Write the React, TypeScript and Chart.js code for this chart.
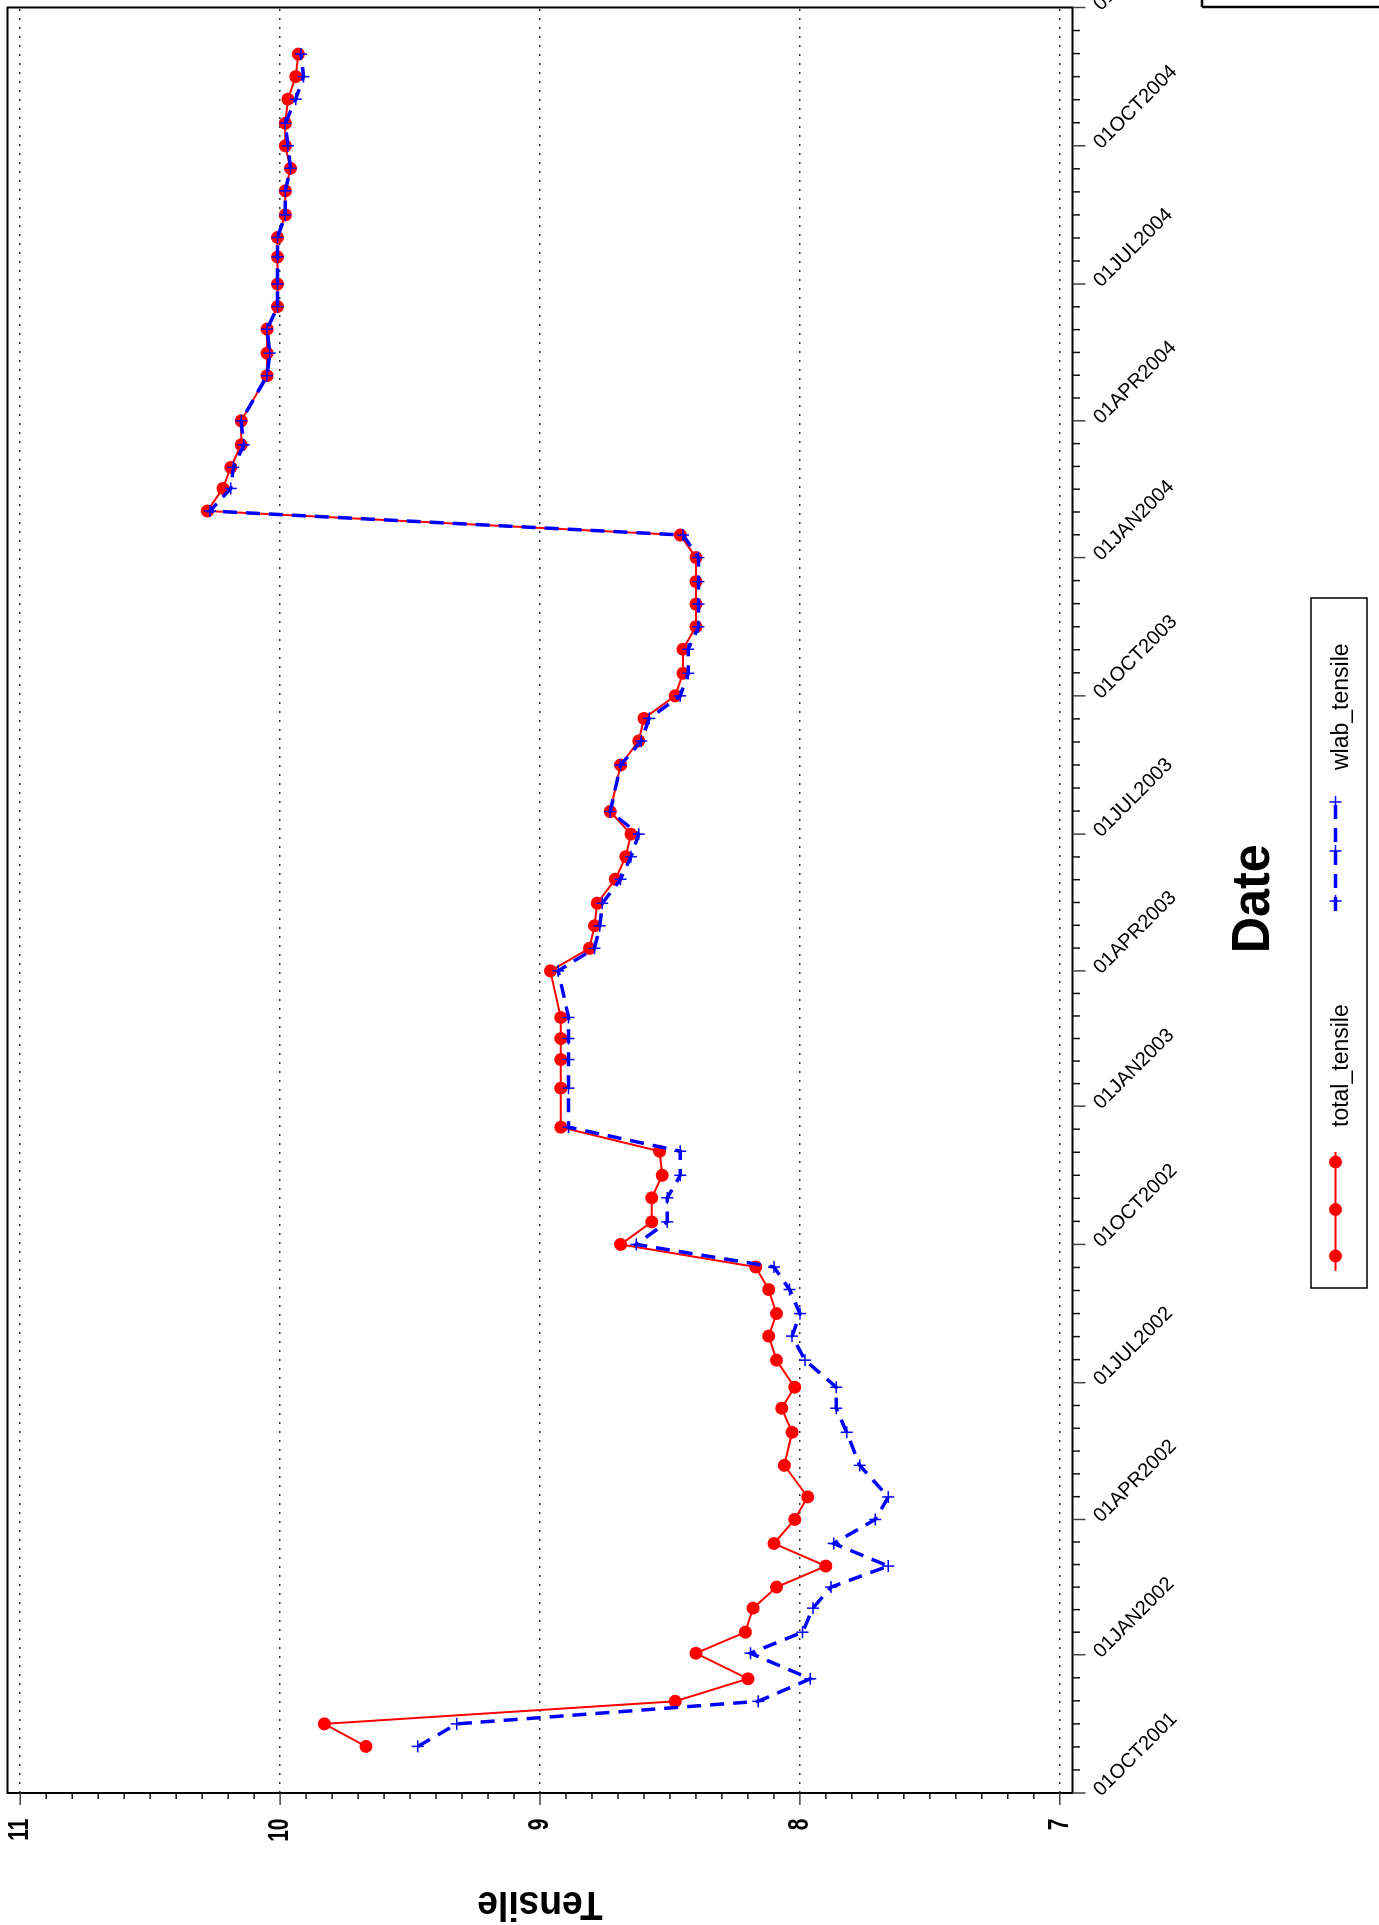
import React, { useEffect, useRef } from 'react';
import { Chart, registerables } from 'chart.js';

Chart.register(...registerables);

// ---------------- data ----------------
const sampleDates = [
  '2001-11-01', '2001-11-16', '2001-12-01', '2001-12-16', '2002-01-02', '2002-01-16', '2002-02-01', '2002-02-15', '2002-03-01', '2002-03-16',
  '2002-04-01', '2002-04-16', '2002-05-07', '2002-05-29', '2002-06-14', '2002-06-28', '2002-07-16', '2002-08-01', '2002-08-16', '2002-09-01',
  '2002-09-16', '2002-10-01', '2002-10-16', '2002-11-01', '2002-11-16', '2002-12-02', '2002-12-18', '2003-01-13', '2003-02-01', '2003-02-15',
  '2003-03-01', '2003-04-01', '2003-04-16', '2003-05-01', '2003-05-16', '2003-06-01', '2003-06-16', '2003-07-01', '2003-07-16', '2003-08-16',
  '2003-09-01', '2003-09-16', '2003-10-01', '2003-10-16', '2003-11-01', '2003-11-16', '2003-12-01', '2003-12-16', '2004-01-01', '2004-01-16',
  '2004-02-01', '2004-02-16', '2004-03-01', '2004-03-16', '2004-04-01', '2004-05-01', '2004-05-16', '2004-06-01', '2004-06-16', '2004-07-01',
  '2004-07-19', '2004-08-01', '2004-08-16', '2004-09-01', '2004-09-16', '2004-10-01', '2004-10-16', '2004-11-01', '2004-11-16', '2004-12-01',
];

const totalTensile = [
  9.67, 9.83, 8.48, 8.20, 8.40, 8.21, 8.18, 8.09, 7.90, 8.10,
  8.02, 7.97, 8.06, 8.03, 8.07, 8.02, 8.09, 8.12, 8.09, 8.12,
  8.17, 8.69, 8.57, 8.57, 8.53, 8.54, 8.92, 8.92, 8.92, 8.92,
  8.92, 8.96, 8.81, 8.79, 8.78, 8.71, 8.67, 8.65, 8.73, 8.69,
  8.62, 8.60, 8.48, 8.45, 8.45, 8.40, 8.40, 8.40, 8.40, 8.46,
  10.28, 10.22, 10.19, 10.15, 10.15, 10.05, 10.05, 10.05, 10.01, 10.01,
  10.01, 10.01, 9.98, 9.98, 9.96, 9.98, 9.98, 9.97, 9.94, 9.93,
];

const wlabTensile = [
  9.47, 9.32, 8.16, 7.96, 8.19, 7.99, 7.95, 7.88, 7.66, 7.87,
  7.71, 7.66, 7.77, 7.82, 7.86, 7.86, 7.98, 8.03, 8.00, 8.04,
  8.10, 8.63, 8.51, 8.51, 8.46, 8.46, 8.89, 8.89, 8.89, 8.89,
  8.89, 8.93, 8.79, 8.77, 8.76, 8.69, 8.65, 8.62, 8.73, 8.69,
  8.61, 8.58, 8.46, 8.43, 8.43, 8.39, 8.39, 8.39, 8.39, 8.45,
  10.27, 10.19, 10.18, 10.14, 10.15, 10.05, 10.04, 10.05, 10.01, 10.01,
  10.01, 10.01, 9.98, 9.98, 9.96, 9.97, 9.98, 9.94, 9.91, 9.92,
];

const dateTickDates = [
  '2001-10-01', '2002-01-01', '2002-04-01', '2002-07-01', '2002-10-01', '2003-01-01', '2003-04-01',
  '2003-07-01', '2003-10-01', '2004-01-01', '2004-04-01', '2004-07-01', '2004-10-01', '2005-01-01',
];
const dateTickLabels = [
  '01OCT2001', '01JAN2002', '01APR2002', '01JUL2002', '01OCT2002', '01JAN2003', '01APR2003',
  '01JUL2003', '01OCT2003', '01JAN2004', '01APR2004', '01JUL2004', '01OCT2004', '01JAN2005',
];
const tensileTicks = [7, 8, 9, 10, 11];
const tensileTickLabels = ['7', '8', '9', '10', '11'];
const seriesNames = ['total_tensile', 'wlab_tensile'];
const xTitle = 'Date';
const yTitle = 'Tensile';

// ---------------- helpers ----------------
const EPOCH = Date.UTC(2001, 9, 1);
const toDay = (s: string) => {
  const [y, m, d] = s.split('-').map(Number);
  return (Date.UTC(y, m - 1, d) - EPOCH) / 86400000;
};

const W = 1925; // unrotated canvas width (becomes screen height)
const H = 1379; // unrotated canvas height (becomes screen width)
const FONT = '"Liberation Sans", Arial, Helvetica, sans-serif';
const RED = '#ff0000';
const BLUE = '#0000ff';

function line(ctx: CanvasRenderingContext2D, x1: number, y1: number, x2: number, y2: number) {
  ctx.beginPath();
  ctx.moveTo(x1, y1);
  ctx.lineTo(x2, y2);
  ctx.stroke();
}

const decorPlugin = {
  id: 'decor',
  afterDraw(chart: any) {
    const { ctx, chartArea: a, scales } = chart;
    const xs = scales.x;
    const ys = scales.y;
    ctx.save();

    // plot frame
    ctx.strokeStyle = '#000';
    ctx.lineWidth = 2;
    ctx.setLineDash([]);
    ctx.strokeRect(a.left, a.top, a.right - a.left, a.bottom - a.top);

    // date axis ticks (major + 5 minor per quarter)
    const majors = dateTickDates.map((d) => xs.getPixelForValue(toDay(d)));
    ctx.lineWidth = 1.5;
    for (let i = 0; i < majors.length; i++) {
      ctx.strokeStyle = '#444';
      line(ctx, majors[i], a.bottom, majors[i], a.bottom + 13);
      if (i < majors.length - 1) {
        ctx.strokeStyle = '#111';
        for (let k = 1; k <= 5; k++) {
          const p = majors[i] + ((majors[i + 1] - majors[i]) * k) / 6;
          line(ctx, p, a.bottom, p, a.bottom + 7.5);
        }
      }
    }

    // tensile axis ticks (major every 1, minor every 0.1)
    for (let t = 70; t <= 110; t++) {
      const p = ys.getPixelForValue(t / 10);
      const major = t % 10 === 0;
      ctx.strokeStyle = major ? '#444' : '#111';
      line(ctx, a.left - (major ? 12 : 6), p, a.left, p);
    }

    // date tick labels (rotated)
    ctx.fillStyle = '#000';
    ctx.font = `20px ${FONT}`;
    ctx.textAlign = 'left';
    ctx.textBaseline = 'middle';
    dateTickDates.forEach((d, i) => {
      const p = xs.getPixelForValue(toDay(d));
      ctx.save();
      ctx.translate(p, a.bottom + 24.5);
      ctx.rotate(Math.PI / 4);
      ctx.fillText(dateTickLabels[i], 0, 0);
      ctx.restore();
    });

    // tensile tick labels
    ctx.font = `bold 30px ${FONT}`;
    ctx.textAlign = 'right';
    ctx.textBaseline = 'middle';
    tensileTicks.forEach((v, i) => {
      const p = ys.getPixelForValue(v);
      ctx.save();
      ctx.translate(a.left - 25.5, p);
      ctx.scale(0.7, 1);
      ctx.fillText(tensileTickLabels[i], 0, 0);
      ctx.restore();
    });

    // axis titles
    ctx.textAlign = 'center';
    ctx.textBaseline = 'middle';
    ctx.save();
    ctx.font = `bold 40px ${FONT}`;
    ctx.translate(21.5, (a.top + a.bottom) / 2);
    ctx.rotate(-Math.PI / 2);
    ctx.scale(0.93, 1);
    ctx.fillText(yTitle, 0, 0);
    ctx.restore();

    ctx.save();
    ctx.font = `bold 53px ${FONT}`;
    ctx.translate((a.left + a.right) / 2 + 1.5, 1254);
    ctx.scale(0.95, 1);
    ctx.fillText(xTitle, 0, 0);
    ctx.restore();

    // legend box
    const lv = 1335.5;
    ctx.strokeStyle = '#000';
    ctx.lineWidth = 1.5;
    ctx.strokeRect(637, 1311, 1327 - 637, 1367 - 1311);

    // total_tensile sample
    ctx.strokeStyle = RED;
    ctx.lineWidth = 2;
    line(ctx, 654, lv, 773, lv);
    ctx.fillStyle = RED;
    [669, 715.5, 763].forEach((u) => {
      ctx.beginPath();
      ctx.arc(u, lv, 6.5, 0, Math.PI * 2);
      ctx.fill();
    });

    // wlab_tensile sample
    ctx.strokeStyle = BLUE;
    ctx.lineWidth = 3.5;
    ctx.setLineDash([14, 9]);
    line(ctx, 1014, lv, 1127, lv);
    ctx.setLineDash([]);
    ctx.lineWidth = 1.5;
    [1024, 1074, 1123].forEach((u) => {
      line(ctx, u - 6, lv, u + 6, lv);
      line(ctx, u, lv - 6, u, lv + 6);
    });

    ctx.fillStyle = '#000';
    ctx.font = `23px ${FONT}`;
    ctx.textAlign = 'left';
    ctx.textBaseline = 'alphabetic';
    ctx.fillText(seriesNames[0], 798, 1347.5);
    ctx.fillText(seriesNames[1], 1155, 1347.5);

    // partial box at the page corner
    ctx.strokeStyle = '#000';
    ctx.lineWidth = 2.5;
    line(ctx, 1918, 1202, 1918, H);
    line(ctx, 1918, 1202, W, 1202);

    ctx.restore();
  },
};

export default function App() {
  const canvasRef = useRef<HTMLCanvasElement | null>(null);

  useEffect(() => {
    const canvas = canvasRef.current;
    if (!canvas) return;
    const chart = new Chart(canvas, {
      type: 'line',
      data: {
        datasets: [
          {
            label: seriesNames[0],
            data: sampleDates.map((d, i) => ({ x: toDay(d), y: totalTensile[i] })),
            borderColor: RED,
            backgroundColor: RED,
            borderWidth: 2,
            pointStyle: 'circle',
            pointRadius: 6.5,
            pointBorderWidth: 0,
            pointBackgroundColor: RED,
            pointBorderColor: RED,
            fill: false,
            order: 1,
          },
          {
            label: seriesNames[1],
            data: sampleDates.map((d, i) => ({ x: toDay(d), y: wlabTensile[i] })),
            borderColor: BLUE,
            backgroundColor: BLUE,
            borderWidth: 3.5,
            borderDash: [14, 9],
            pointStyle: 'cross',
            pointRadius: 6,
            pointBorderWidth: 1.5,
            pointBorderColor: BLUE,
            fill: false,
            order: 0,
          },
        ],
      } as any,
      options: {
        animation: false,
        responsive: false,
        devicePixelRatio: 1,
        events: [],
        layout: { padding: { top: 5, right: 4, bottom: 0, left: 0 } },
        plugins: {
          legend: { display: false },
          tooltip: { enabled: false },
          title: { display: false },
        },
        scales: {
          x: {
            type: 'linear',
            position: 'bottom',
            min: 0,
            max: toDay('2005-01-01'),
            ticks: { display: false },
            grid: { display: false },
            border: { display: false },
            afterFit: (s: any) => {
              s.height = 306.5;
            },
          },
          y: {
            type: 'linear',
            position: 'left',
            min: 6.951,
            max: 11.049,
            ticks: { display: false },
            afterBuildTicks: (s: any) => {
              s.ticks = tensileTicks.map((v) => ({ value: v }));
            },
            grid: { color: '#333', lineWidth: 1.5, drawTicks: false },
            border: { display: false, dash: [2, 7] },
            afterFit: (s: any) => {
              s.width = 132;
            },
          },
        },
      } as any,
      plugins: [decorPlugin],
    });
    return () => chart.destroy();
  }, []);

  return (
    <div
      style={{
        position: 'fixed',
        left: 0,
        top: 0,
        width: 1379,
        height: 1925,
        overflow: 'hidden',
        background: '#fff',
      }}
    >
      <div
        style={{
          position: 'absolute',
          left: 0,
          top: 0,
          width: W,
          height: H,
          transformOrigin: '0 0',
          transform: `translateY(${W}px) rotate(-90deg)`,
        }}
      >
        <canvas ref={canvasRef} width={W} height={H} style={{ display: 'block', width: W, height: H }} />
      </div>
    </div>
  );
}
